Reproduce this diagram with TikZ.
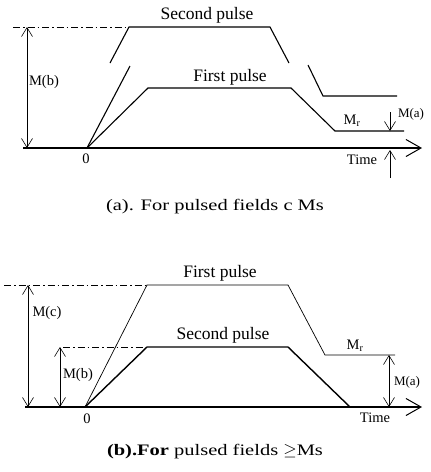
\documentclass[tikz,border=0pt]{standalone}
\usepackage{fontspec}
\setmainfont{Liberation Serif}
\newfontfamily\capfont[FakeStretch=1.28]{Liberation Serif}
\usetikzlibrary{arrows.meta}

\begin{document}
\begin{tikzpicture}[x=1pt, y=-1pt,
    pulse/.style={line width=1.1pt},
    thinpulse/.style={line width=0.7pt},
    timeaxis/.style={line width=1.4pt, -{Straight Barb[length=15pt,width=17pt,line width=1pt]}},
    level/.style={line width=0.9pt, dash pattern=on 7pt off 3pt on 1.5pt off 3pt},
    dim/.style={line width=0.6pt, {Straight Barb[length=9pt,width=11pt]}-{Straight Barb[length=9pt,width=11pt]}},
    onearrow/.style={line width=0.6pt, -{Straight Barb[length=9pt,width=11pt]}},
    bigtxt/.style={font=\fontsize{17.5}{20}\selectfont, inner sep=0pt},
    midtxt/.style={font=\fontsize{14.5}{17}\selectfont, inner sep=0pt},
    smalltxt/.style={font=\fontsize{13}{15}\selectfont, inner sep=0pt},
    captxt/.style={font=\capfont\fontsize{16}{19}\selectfont, inner sep=0pt}]
  \fill[white] (0,0) rectangle (431,472);

  % (a) pulsed fields below Ms
  \draw[timeaxis] (23,148) -- (422,148);
  \draw[level] (13,27) -- (129,27);
  % second pulse, broken on both slopes
  \draw[pulse] (110,63) -- (129,27) -- (270,27) -- (289,63);
  \draw[pulse] (87,148) -- (130,66);
  \draw[pulse] (308,65) -- (323,96) -- (397,96);
  % first pulse
  \draw[pulse] (87,148) -- (148,88) -- (291,88) -- (335,131) -- (404,131);
  % magnitudes
  \draw[dim] (27,27) -- (27,148);
  \draw[onearrow] (390,112) -- (390,131);
  \draw[onearrow] (390,178) -- (390,150);

  \node[bigtxt] (secA) at (207,15) {Second pulse};
  \node[bigtxt] (firstA) at (230,77) {First pulse};
  \node[midtxt] (mbA) at (44,82) {M(b)};
  \node[midtxt] (zeroA) at (86,159) {0};
  \node[midtxt] (mrA) at (352,121) {M\textsubscript{r}};
  \node[smalltxt] (maA) at (411,114) {M(a)};
  \node[midtxt] (timeA) at (362,160) {Time};
  \node[captxt] (capA) at (215,207) {(a). For pulsed fields c Ms};

  % (b) pulsed fields at or above Ms
  \draw[timeaxis] (25,407) -- (422,407);
  \draw[level] (4,285) -- (147,285);
  \draw[level] (63,347) -- (147,347);
  % first pulse
  \draw[thinpulse] (85,407) -- (147,285) -- (288,285) -- (325,355) -- (395,355);
  % second pulse
  \draw[line width=1.4pt] (85,407) -- (147,347) -- (288,347) -- (350,407);
  % magnitudes
  \draw[dim] (28,285) -- (28,407);
  \draw[dim] (60,347) -- (60,407);
  \draw[dim] (389,355) -- (389,407);

  \node[bigtxt] (firstB) at (220,273) {First pulse};
  \node[bigtxt] (secB) at (223,335) {Second pulse};
  \node[midtxt] (mcB) at (47,313) {M(c)};
  \node[midtxt] (mbB) at (78,375) {M(b)};
  \node[midtxt] (zeroB) at (87,419) {0};
  \node[midtxt] (mrB) at (355,346) {M\textsubscript{r}};
  \node[smalltxt] (maB) at (407,382) {M(a)};
  \node[midtxt] (timeB) at (375,418) {Time};
  \node[captxt] (capB) at (215,452) {\textbf{(b).For} pulsed fields $\geq$Ms};
\end{tikzpicture}
\end{document}
